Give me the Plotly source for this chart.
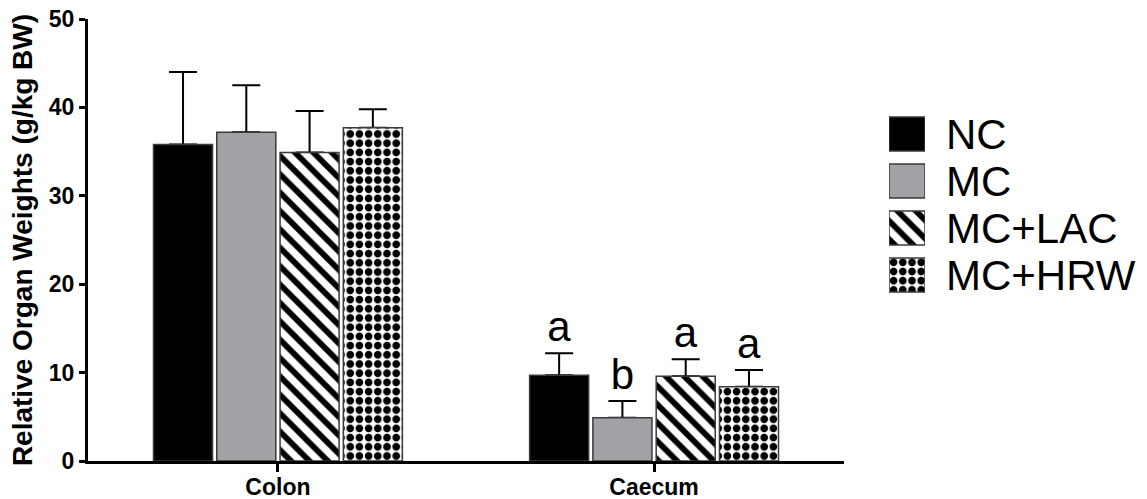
import plotly.graph_objects as go

categories = ["Colon", "Caecum"]
groups = ["NC", "MC", "MC+LAC", "MC+HRW"]

nc_mean = [35.8, 9.7]
nc_sd = [8.2, 2.5]
mc_mean = [37.2, 4.9]
mc_sd = [5.3, 1.9]
lac_mean = [34.9, 9.6]
lac_sd = [4.7, 1.9]
hrw_mean = [37.7, 8.4]
hrw_sd = [2.1, 1.9]

nc_letters = ["", "a"]
mc_letters = ["", "b"]
lac_letters = ["", "a"]
hrw_letters = ["", "a"]

y_ticks = [0, 10, 20, 30, 40, 50]

FONT = "Liberation Sans, Arial, sans-serif"
OUTLINE = "#3a3a3a"

series = [
    (groups[0], nc_mean, nc_sd, nc_letters,
     dict(color="black", line=dict(color=OUTLINE, width=1.5))),
    (groups[1], mc_mean, mc_sd, mc_letters,
     dict(color="#a2a2a6", line=dict(color=OUTLINE, width=1.5))),
    (groups[2], lac_mean, lac_sd, lac_letters,
     dict(color="white", line=dict(color=OUTLINE, width=1.5),
          pattern=dict(shape="\\", fgcolor="black", bgcolor="white",
                       size=13, solidity=0.45, fillmode="replace"))),
    (groups[3], hrw_mean, hrw_sd, hrw_letters,
     dict(color="white", line=dict(color=OUTLINE, width=1.5),
          pattern=dict(shape=".", fgcolor="black", bgcolor="white",
                       size=9.2, solidity=0.55, fillmode="replace"))),
]

fig = go.Figure()

for name, mean, sd, letters, marker in series:
    # error bars drawn first (transparent bar), so the real bar hides the lower cap
    fig.add_trace(go.Bar(
        x=categories, y=mean, offsetgroup=name, showlegend=False,
        marker=dict(color="rgba(0,0,0,0)", line=dict(width=0)),
        error_y=dict(type="data", array=sd, arrayminus=[0] * len(sd),
                     symmetric=False, color="black", thickness=2, width=14),
        hoverinfo="skip", xaxis="x", yaxis="y",
    ))
    fig.add_trace(go.Bar(
        x=categories, y=mean, name=name, offsetgroup=name,
        marker=marker, showlegend=False,
        xaxis="x", yaxis="y",
    ))
    tops = [m + s for m, s in zip(mean, sd)]
    fig.add_trace(go.Bar(
        x=categories, y=tops, offsetgroup=name, showlegend=False,
        marker=dict(color="rgba(0,0,0,0)", line=dict(width=0)),
        text=letters, textposition="outside", constraintext="none",
        cliponaxis=False, textangle=0,
        outsidetextfont=dict(family=FONT, size=42, color="black"),
        hoverinfo="skip", xaxis="x", yaxis="y",
    ))

# legend swatches on their own small axes
for name, mean, sd, letters, marker in series:
    fig.add_trace(go.Bar(
        y=[name], x=[1], orientation="h", offsetgroup="legend", width=0.72,
        marker=marker, showlegend=False, hoverinfo="skip",
        xaxis="x2", yaxis="y2",
    ))

# the page body margin is removed (post_script), so the figure fills the window
W, H = 1147, 499
ml, mr, mt = 88, 7, 19
plot_bottom = 461
mb = H - plot_bottom
pw = W - ml - mr
ph = H - mt - mb

def px_x(x_img):
    return (x_img - ml) / pw

def px_y(y_img):
    return (plot_bottom - y_img) / ph

fig.update_layout(
    width=W, height=H,
    margin=dict(l=ml, r=mr, t=mt, b=mb),
    paper_bgcolor="white", plot_bgcolor="white",
    barmode="group", bargap=0.327, bargroupgap=0.067,
    showlegend=False,
    font=dict(family=FONT, color="black"),
    xaxis=dict(
        domain=[0, px_x(844)], range=[-0.505, 1.505],
        showline=True, linecolor="black", linewidth=3,
        ticks="outside", ticklen=8, tickwidth=2.5, tickcolor="black",
        tickfont=dict(family=FONT, size=23, color="black", weight="bold"),
        ticklabelstandoff=-5, ticklabeloverflow="allow",
        showgrid=False, zeroline=False, anchor="y", automargin=False,
    ),
    yaxis=dict(
        range=[0, 50], tickvals=y_ticks,
        showline=True, linecolor="black", linewidth=3,
        ticks="outside", ticklen=6, tickwidth=3, tickcolor="black",
        tickfont=dict(family=FONT, size=23, color="black", weight="bold"),
        ticklabeloverflow="allow",
        title=dict(text="Relative Organ Weights (g/kg BW)",
                   font=dict(family=FONT, size=28, color="black", weight="bold"),
                   standoff=9),
        showgrid=False, zeroline=False, anchor="x", automargin=False,
    ),
    xaxis2=dict(
        domain=[px_x(889), px_x(925)], range=[0, 1],
        visible=False, anchor="y2", fixedrange=True, automargin=False,
    ),
    yaxis2=dict(
        domain=[px_y(298.5), px_y(110.5)],
        type="category", categoryorder="array", categoryarray=groups,
        tickmode="array", tickvals=groups, ticktext=groups,
        range=[3.5, -0.5], side="right", anchor="x2",
        showline=False, showgrid=False, zeroline=False, ticks="",
        ticklabelstandoff=20, automargin=False, ticklabeloverflow="allow",
        tickfont=dict(family=FONT, size=42, color="black"),
    ),
)

fig.write_html(
    "out.html",
    config={"displayModeBar": False},
    post_script="document.body.style.margin='0';document.body.style.overflow='hidden';",
)
